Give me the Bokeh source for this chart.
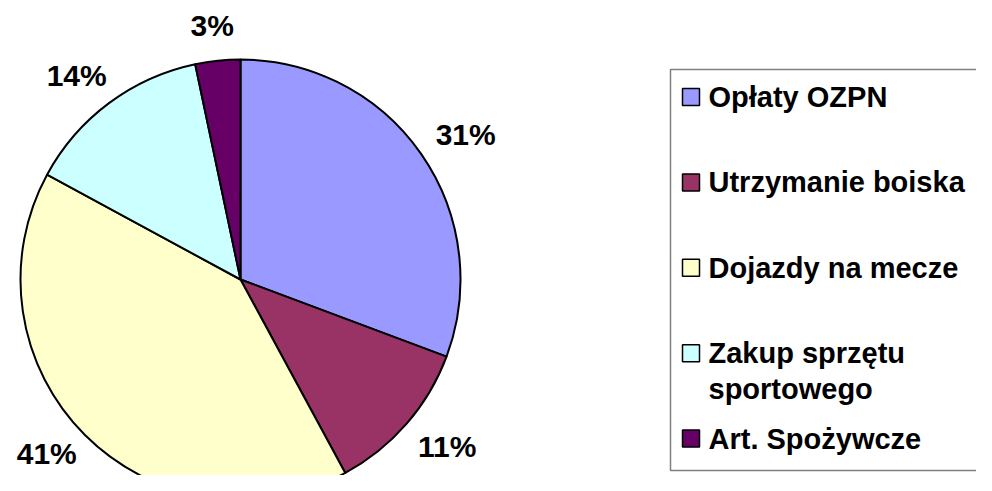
import math
from bokeh.plotting import figure
from bokeh.models import ColumnDataSource
from bokeh.core.properties import value
from bokeh.embed import file_html
from bokeh.resources import INLINE

# ---- data ----
categories = ["Opłaty OZPN", "Utrzymanie boiska", "Dojazdy na mecze",
              "Zakup sprzętu\nsportowego", "Art. Spożywcze"]
shares = [30.7, 11.4, 40.8, 13.8, 3.3]
colors = ["#9999FF", "#993366", "#FFFFCC", "#CCFFFF", "#660066"]

# ---- layout ----
W, H = 976, 475
FONT = value("Liberation Sans")
FS_LABEL = "30px"
FS_LEGEND = "29px"

p = figure(width=W, height=H, x_range=(0, W), y_range=(0, H),
           toolbar_location=None, output_backend="svg", min_border=0)
p.axis.visible = False
p.grid.visible = False
p.outline_line_color = None
p.background_fill_color = "white"
p.border_fill_color = "white"

total = sum(shares)
cx, cy, R = 240, 196, 220
starts, ends, mids = [], [], []
cum = 0.0
for v in shares:
    f0 = cum / total
    cum += v
    f1 = cum / total
    starts.append(math.pi / 2 - 2 * math.pi * f0)
    ends.append(math.pi / 2 - 2 * math.pi * f1)
    mids.append(2 * math.pi * (f0 + f1) / 2)  # clockwise from top

src = ColumnDataSource(dict(start=starts, end=ends, color=colors))
p.wedge(x=cx, y=cy, radius=R, start_angle="start", end_angle="end",
        direction="clock", fill_color="color", line_color="black",
        line_width=2, source=src)

# percentage labels (kept inside the canvas)
Rx, Ry = 274, 255
lx = [cx + Rx * math.sin(t) for t in mids]
ly = [max(cy + Ry * math.cos(t), 22) for t in mids]
labels = [f"{round(v / total * 100)}%" for v in shares]
p.text(x=lx, y=ly, text=labels, text_align="center", text_baseline="middle",
       text_font=FONT, text_font_style="bold", text_font_size=FS_LABEL,
       text_color="black")

# legend box
p.quad(left=670, right=1000, bottom=5, top=406, fill_color=None,
       line_color="#808080", line_width=1.5)

# legend entries
first_row = 378.5
pitch = 85.4
line_h = 36
sw_x, sw_size = 690.5, 17
tx = 708
sw_y, tx_list, ty_list = [], [], []
for i, name in enumerate(categories):
    yy = first_row - i * pitch
    sw_y.append(yy)
    for j, line in enumerate(name.split("\n")):
        tx_list.append(line)
        ty_list.append(yy - j * line_h)

p.rect(x=[sw_x] * len(categories), y=sw_y, width=sw_size, height=sw_size,
       fill_color=colors, line_color="black", line_width=1.5)
p.text(x=[tx] * len(tx_list), y=ty_list, text=tx_list, text_align="left",
       text_baseline="middle", text_font=FONT, text_font_style="bold",
       text_font_size=FS_LEGEND, text_color="black")

open("out.html", "w").write(file_html(p, INLINE))
